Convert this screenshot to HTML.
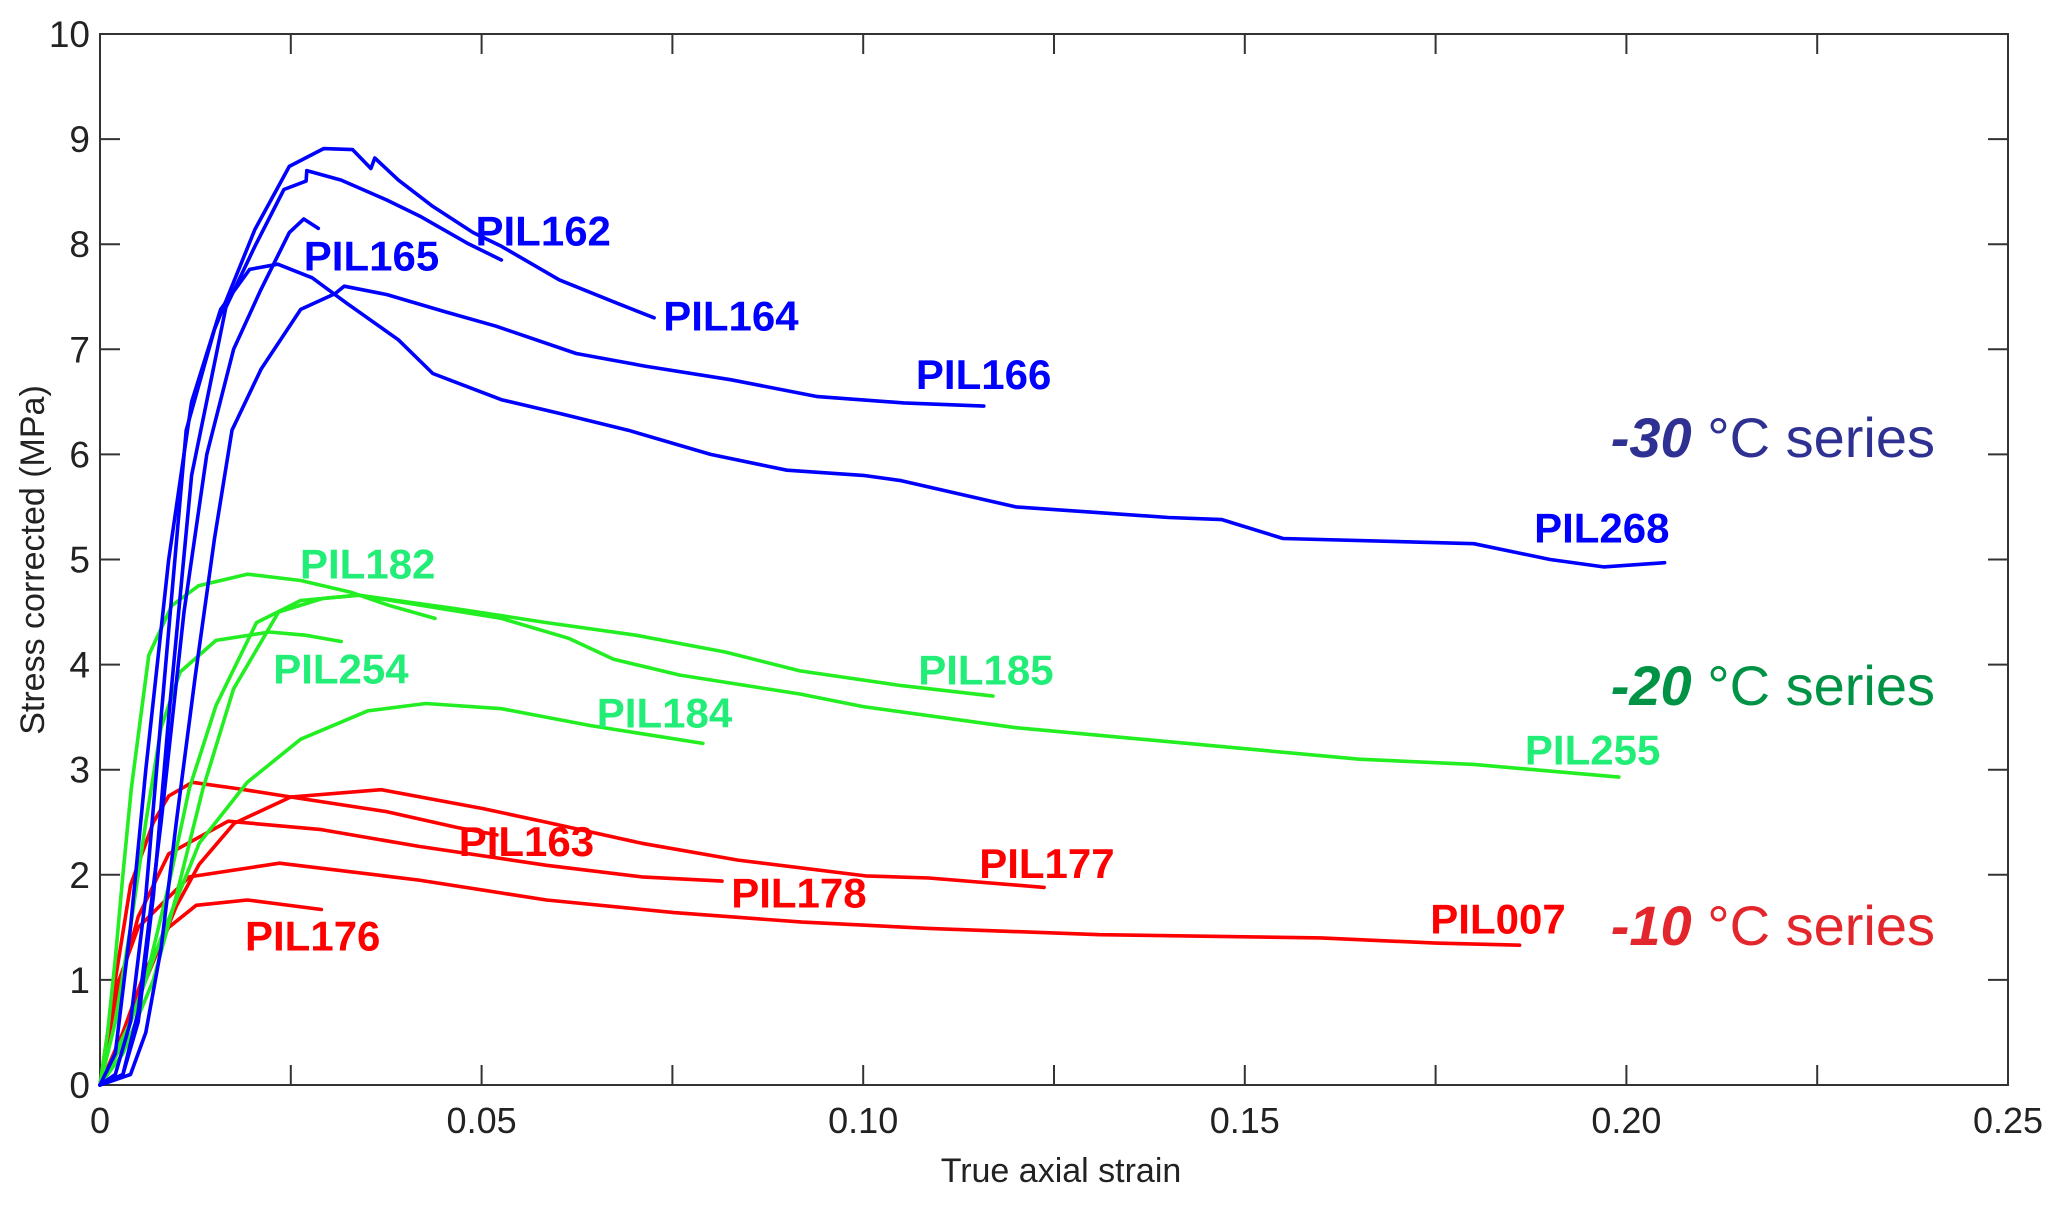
<!DOCTYPE html>
<html><head><meta charset="utf-8"><style>
html,body{margin:0;padding:0;background:#fff;}
svg{display:block;font-family:"Liberation Sans",Arial,sans-serif;}
</style></head><body>
<svg id="chart" width="2067" height="1206" viewBox="0 0 2067 1206">
<g id="axes"></g>
<g id="series"></g>
<g id="labels"></g>
<text x="1061" y="1182" font-size="34" fill="#222" text-anchor="middle">True axial strain</text>
<text transform="translate(44,560) rotate(-90)" font-size="34" fill="#222" text-anchor="middle">Stress corrected (MPa)</text>
<text x="1935" y="457" font-size="56" text-anchor="end"><tspan fill="#2e3192" font-weight="bold" font-style="italic">-30</tspan><tspan fill="#2e3192"> °C series</tspan></text>
<text x="1935" y="705" font-size="56" text-anchor="end"><tspan fill="#009245" font-weight="bold" font-style="italic">-20</tspan><tspan fill="#009245"> °C series</tspan></text>
<text x="1935" y="945" font-size="56" text-anchor="end"><tspan fill="#e3262b" font-weight="bold" font-style="italic">-10</tspan><tspan fill="#e3262b"> °C series</tspan></text>
</svg>
<script>
const xTicks=[0,0.025,0.05,0.075,0.10,0.125,0.15,0.175,0.20,0.225,0.25];
const xTickLabels=["0","","0.05","","0.10","","0.15","","0.20","","0.25"];
const yTicks=[0,1,2,3,4,5,6,7,8,9,10];
const seriesNames=["PIL163","PIL177","PIL178","PIL007","PIL176","PIL182","PIL254","PIL185","PIL255","PIL184","PIL164","PIL162","PIL165","PIL268","PIL166"];
const seriesColors=["#ff0000","#ff0000","#ff0000","#ff0000","#ff0000","#22ee22","#22ee22","#22ee22","#22ee22","#22ee22","#0000ff","#0000ff","#0000ff","#0000ff","#0000ff"];
const strainPIL163=[0,0.002,0.004,0.007,0.009,0.0121,0.018,0.025,0.0376,0.0468,0.052];
const stressPIL163=[0,1.0,1.9,2.5,2.75,2.88,2.82,2.74,2.6,2.45,2.38];
const strainPIL177=[0,0.003,0.006,0.01,0.013,0.0176,0.025,0.0368,0.0502,0.0585,0.071,0.0836,0.1003,0.1086,0.1237];
const stressPIL177=[0,0.4,1.0,1.7,2.1,2.49,2.74,2.81,2.63,2.50,2.30,2.14,1.99,1.97,1.88];
const strainPIL178=[0,0.002,0.005,0.009,0.0168,0.029,0.0418,0.0585,0.071,0.0815];
const stressPIL178=[0,0.8,1.6,2.2,2.51,2.43,2.27,2.09,1.98,1.94];
const strainPIL007=[0,0.002,0.005,0.0117,0.0235,0.0418,0.0585,0.0752,0.092,0.1086,0.131,0.16,0.175,0.186];
const stressPIL007=[0,0.9,1.5,1.98,2.11,1.95,1.76,1.64,1.55,1.49,1.43,1.4,1.35,1.33];
const strainPIL176=[0,0.003,0.006,0.009,0.0126,0.0193,0.029];
const stressPIL176=[0,0.5,1.1,1.5,1.71,1.76,1.67];
const strainPIL182=[0,0.001,0.002,0.003,0.0041,0.0064,0.0094,0.0129,0.0193,0.0263,0.0328,0.038,0.0439];
const stressPIL182=[0,0.5,1.2,2.0,2.82,4.09,4.56,4.75,4.86,4.80,4.69,4.56,4.44];
const strainPIL254=[0,0.002,0.004,0.006,0.008,0.0105,0.0152,0.0222,0.0269,0.0316];
const stressPIL254=[0,0.6,1.5,2.5,3.4,3.93,4.23,4.31,4.28,4.22];
const strainPIL185=[0,0.003,0.006,0.009,0.0117,0.0152,0.0205,0.0263,0.0339,0.0468,0.0585,0.0702,0.0819,0.0917,0.105,0.117];
const stressPIL185=[0,0.4,1.0,1.9,2.82,3.61,4.40,4.61,4.66,4.53,4.40,4.28,4.12,3.94,3.8,3.7];
const strainPIL255=[0,0.003,0.007,0.01,0.0135,0.0175,0.0234,0.0292,0.0339,0.0526,0.0614,0.0673,0.076,0.0917,0.1,0.12,0.135,0.15,0.165,0.18,0.199];
const stressPIL255=[0,0.3,1.0,1.8,2.82,3.77,4.5,4.63,4.66,4.44,4.25,4.05,3.9,3.72,3.6,3.4,3.3,3.2,3.1,3.05,2.93];
const strainPIL184=[0,0.004,0.008,0.013,0.0193,0.0263,0.0351,0.0427,0.0526,0.0643,0.079];
const stressPIL184=[0,0.6,1.4,2.3,2.88,3.29,3.56,3.63,3.58,3.42,3.25];
const strainPIL164=[0,0.002,0.004,0.006,0.008,0.0113,0.015,0.0203,0.0248,0.0293,0.0331,0.0355,0.036,0.0391,0.0436,0.0489,0.0526,0.0602,0.0677,0.0726];
const stressPIL164=[0,0.1,0.6,1.8,3.5,6.23,7.19,8.14,8.74,8.91,8.9,8.72,8.82,8.61,8.36,8.11,7.98,7.66,7.44,7.30];
const strainPIL162=[0,0.003,0.005,0.007,0.009,0.012,0.0165,0.0203,0.0241,0.027,0.0271,0.0316,0.0376,0.0421,0.0481,0.0526];
const stressPIL162=[0,0.1,0.6,1.8,3.5,5.8,7.4,7.98,8.52,8.6,8.7,8.61,8.42,8.26,8.01,7.85];
const strainPIL165=[0,0.003,0.005,0.008,0.011,0.014,0.0175,0.0211,0.0248,0.0267,0.0286];
const stressPIL165=[0,0.1,0.7,2.5,4.5,6.0,7.0,7.57,8.11,8.24,8.15];
const strainPIL268=[0,0.002,0.004,0.006,0.009,0.012,0.0158,0.0196,0.0233,0.0278,0.0323,0.0391,0.0436,0.0526,0.0602,0.0692,0.08,0.09,0.1,0.105,0.12,0.13,0.14,0.147,0.155,0.17,0.18,0.19,0.197,0.205];
const stressPIL268=[0,0.3,1.5,3.0,5.0,6.5,7.38,7.76,7.81,7.68,7.44,7.09,6.77,6.52,6.39,6.23,6.0,5.85,5.8,5.75,5.5,5.45,5.4,5.38,5.2,5.17,5.15,5.0,4.93,4.97];
const strainPIL166=[0,0.004,0.006,0.008,0.01,0.0125,0.015,0.0173,0.0211,0.0263,0.0308,0.032,0.0376,0.0451,0.0519,0.0624,0.0714,0.0827,0.094,0.1053,0.1158];
const stressPIL166=[0,0.1,0.5,1.3,2.5,3.9,5.2,6.23,6.81,7.38,7.53,7.6,7.52,7.36,7.22,6.96,6.84,6.71,6.55,6.49,6.46];
const labelNames=["PIL162","PIL165","PIL164","PIL166","PIL268","PIL182","PIL254","PIL184","PIL185","PIL255","PIL163","PIL178","PIL177","PIL176","PIL007"];
const labelStrain=[0.0492,0.0267,0.0738,0.1069,0.1879,0.0262,0.0227,0.0651,0.1072,0.1867,0.0470,0.0827,0.1152,0.0190,0.1743];
const labelStress=[7.99,7.75,7.18,6.62,5.16,4.82,3.82,3.40,3.81,3.05,2.18,1.69,1.97,1.28,1.44];
const labelColors=["#0000ff","#0000ff","#0000ff","#0000ff","#0000ff","#22ee77","#22ee77","#22ee77","#22ee77","#22ee77","#ff0000","#ff0000","#ff0000","#ff0000","#ff0000"];

const NS="http://www.w3.org/2000/svg";
const X0=100,X1=2008,Y0=1085,Y1=34;
const sx=v=>X0+v/0.25*(X1-X0);
const sy=v=>Y0-v/10*(Y0-Y1);
function mk(tag,attrs,parent){const e=document.createElementNS(NS,tag);for(const k in attrs)e.setAttribute(k,attrs[k]);parent.appendChild(e);return e;}
const axes=document.getElementById('axes');
const frame=mk('rect',{x:X0,y:Y1,width:X1-X0,height:Y0-Y1,fill:'none',stroke:'#333','stroke-width':2},axes);


xTicks.forEach((t,i)=>{
  const x=sx(t);
  const a=mk('line',{x1:x,y1:Y0,x2:x,y2:Y0-20,stroke:'#333','stroke-width':2},axes);
  
  
  const b=mk('line',{x1:x,y1:Y1,x2:x,y2:Y1+20,stroke:'#333','stroke-width':2},axes);
  
  
  if(xTickLabels[i]){
    const tx=mk('text',{x:x,y:1133,'font-size':36,fill:'#222','text-anchor':'middle'},axes);
    tx.textContent=xTickLabels[i];
    
    
  }
});
yTicks.forEach(t=>{
  const y=sy(t);
  const a=mk('line',{x1:X0,y1:y,x2:X0+20,y2:y,stroke:'#333','stroke-width':2},axes);
  
  
  const b=mk('line',{x1:X1,y1:y,x2:X1-20,y2:y,stroke:'#333','stroke-width':2},axes);
  
  
  const tx=mk('text',{x:90,y:y+13,'font-size':37,fill:'#222','text-anchor':'end'},axes);
  tx.textContent=String(t);
  
  
});
const dataMap={PIL163:[strainPIL163,stressPIL163],PIL177:[strainPIL177,stressPIL177],PIL178:[strainPIL178,stressPIL178],PIL007:[strainPIL007,stressPIL007],PIL176:[strainPIL176,stressPIL176],PIL182:[strainPIL182,stressPIL182],PIL254:[strainPIL254,stressPIL254],PIL185:[strainPIL185,stressPIL185],PIL255:[strainPIL255,stressPIL255],PIL184:[strainPIL184,stressPIL184],PIL164:[strainPIL164,stressPIL164],PIL162:[strainPIL162,stressPIL162],PIL165:[strainPIL165,stressPIL165],PIL268:[strainPIL268,stressPIL268],PIL166:[strainPIL166,stressPIL166]};
const sg=document.getElementById('series');
seriesNames.forEach((n,i)=>{
  const [xs,ys]=dataMap[n];
  const pts=xs.map((v,j)=>sx(v).toFixed(1)+','+sy(ys[j]).toFixed(1)).join(' ');
  const p=mk('polyline',{points:pts,fill:'none',stroke:seriesColors[i],'stroke-width':3.6,'stroke-linejoin':'round','stroke-linecap':'round'},sg);
  
  
});
const lg=document.getElementById('labels');
labelNames.forEach((n,i)=>{
  const t=mk('text',{x:sx(labelStrain[i]).toFixed(1),y:sy(labelStress[i]).toFixed(1),'font-size':42,'font-weight':'bold',fill:labelColors[i]},lg);
  t.textContent=n;
  
  
});
</script>
</body></html>
